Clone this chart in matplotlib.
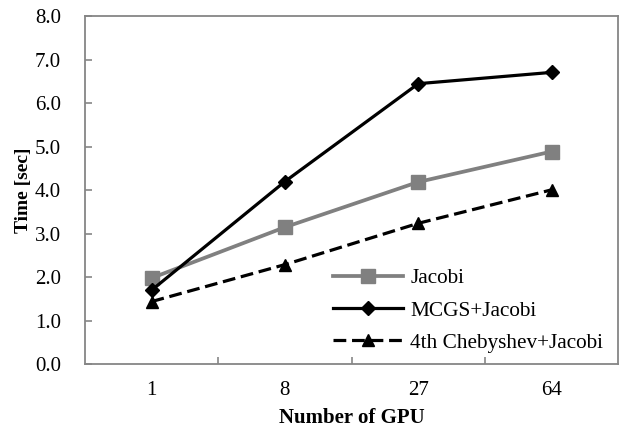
import matplotlib.pyplot as plt

# Dados
gpus = ['1', '8', '27', '64']
jacobi = [1.98, 3.15, 4.19, 4.89]
mcgs_jacobi = [1.70, 4.20, 6.45, 6.71]
cheby_jacobi = [1.44, 2.29, 3.24, 4.01]

plt.rcParams['font.family'] = 'Liberation Serif'

fig = plt.figure(figsize=(6.19, 4.28), dpi=100)
ax = fig.add_axes([0.137, 0.149, 0.862, 0.813])

x = range(len(gpus))
ax.plot(x, jacobi, marker='s', markersize=10, color='#808080',
        linewidth=2.7, label='Jacobi')
ax.plot(x, mcgs_jacobi, marker='D', markersize=7.5, color='black',
        linewidth=2.3, label='MCGS+Jacobi')
ax.plot(x, cheby_jacobi, marker='^', markersize=9, color='black',
        linewidth=2.3, linestyle=(0, (4, 1.8)), label='4th Chebyshev+Jacobi')

ax.set_xlim(-0.5, 3.5)
ax.set_ylim(0, 8)
ax.set_yticks([i for i in range(9)])
ax.set_yticklabels(['%.1f' % i for i in range(9)])
ax.set_xticks(list(x))
ax.set_xticklabels(gpus)
ax.set_xticks([0.5, 1.5, 2.5], minor=True)
ax.tick_params(axis='y', which='major', direction='in', length=5,
               color='#868686', width=1.2, labelsize=15, pad=17)
ax.tick_params(axis='x', which='major', length=0, labelsize=15, pad=12)
ax.tick_params(axis='x', which='minor', direction='in', length=5,
               color='#868686', width=1.2)

for s in ax.spines.values():
    s.set_color('#868686')
    s.set_linewidth(1.3)

ax.set_xlabel('Number of GPU', fontsize=15, fontweight='bold', labelpad=6)
ax.set_ylabel('Time [sec]', fontsize=14, fontweight='bold', labelpad=2)

ax.legend(loc='upper left', bbox_to_anchor=(324.5 / 619, 1 - 260 / 428),
          bbox_transform=fig.transFigure, frameon=False, borderaxespad=0,
          fontsize=15.3, handlelength=3.3, handletextpad=0.33,
          labelspacing=0.58)

plt.savefig('out.png', dpi=100)
